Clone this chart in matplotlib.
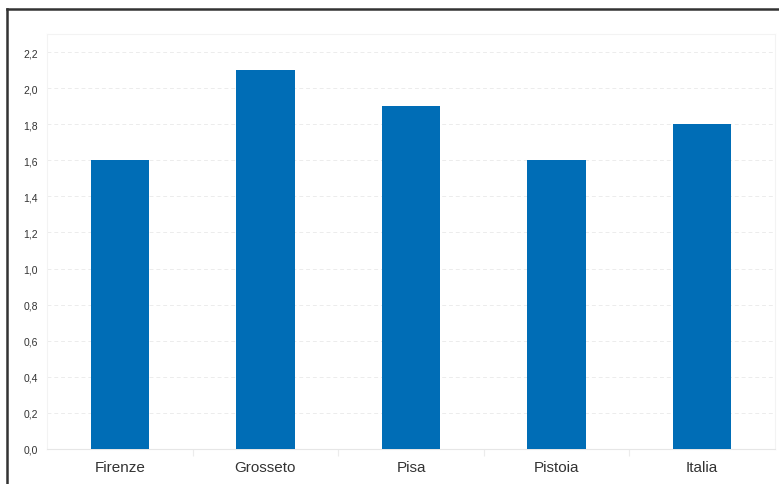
import matplotlib
matplotlib.use("Agg")
import matplotlib.pyplot as plt
from matplotlib.lines import Line2D
from matplotlib.ticker import FixedLocator, FuncFormatter

categories = ["Firenze", "Grosseto", "Pisa", "Pistoia", "Italia"]
values = [1.6, 2.1, 1.9, 1.6, 1.8]
y_ticks = [0.0, 0.2, 0.4, 0.6, 0.8, 1.0, 1.2, 1.4, 1.6, 1.8, 2.0, 2.2]

plt.rcParams["font.family"] = ["Liberation Sans", "DejaVu Sans"]

W, H = 779, 485
fig = plt.figure(figsize=(W / 100, H / 100), dpi=100)
fig.patch.set_facecolor("white")

left, right, top, bottom = 47, 775, 35, 450
ax = fig.add_axes([left / W, 1 - bottom / H, (right - left) / W, (bottom - top) / H])

x = list(range(len(categories)))
ax.bar(x, values, width=0.4, color="#006db6", zorder=3)

ax.set_xlim(-0.5, len(categories) - 0.5)
ax.set_ylim(0, 2.3)

ax.set_yticks(y_ticks)
ax.yaxis.set_major_formatter(FuncFormatter(lambda v, p: f"{v:.1f}".replace(".", ",")))
ax.grid(axis="y", color="#ececec", linestyle=(0, (4, 3)), linewidth=0.7, zorder=0)
ax.tick_params(axis="y", length=0, pad=6.5, labelsize=7.5, labelcolor="#333333")

ax.set_xticks(x)
ax.set_xticklabels(categories)
ax.tick_params(axis="x", which="major", length=0, pad=8, labelsize=11, labelcolor="#333333")
ax.xaxis.set_minor_locator(FixedLocator([i + 0.5 for i in range(len(categories) - 1)]))
ax.tick_params(axis="x", which="minor", length=5, width=0.8, color="#ececec", direction="out")

for side in ("left", "right", "top"):
    ax.spines[side].set_color("#f3f3f3")
    ax.spines[side].set_linewidth(0.8)
ax.spines["bottom"].set_color("#e6e6e6")
ax.spines["bottom"].set_linewidth(0.8)

# outer frame
fx0, fy0 = 6.5 / W, 1 - 10 / H
fig.add_artist(Line2D([fx0, fx0], [0, fy0], transform=fig.transFigure, color="#333333", linewidth=1.8))
fig.add_artist(Line2D([fx0, 1.01], [fy0, fy0], transform=fig.transFigure, color="#333333", linewidth=1.8))

fig.savefig("out.png", dpi=100)
